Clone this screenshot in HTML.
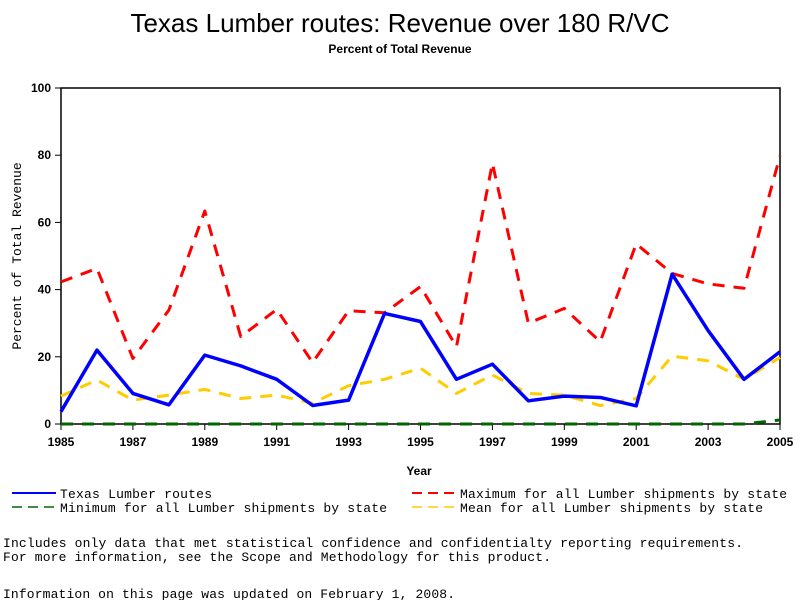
<!DOCTYPE html>
<html><head><meta charset="utf-8"><style>
body{margin:0;background:#fff;}
svg text{font-family:"Liberation Sans",sans-serif;}
.m{font-family:"Liberation Mono",monospace;font-size:13px;}
</style></head><body>
<svg width="800" height="600" xmlns="http://www.w3.org/2000/svg">
<text x="400" y="32" text-anchor="middle" font-size="26">Texas Lumber routes: Revenue over 180 R/VC</text>
<text x="400" y="53" text-anchor="middle" font-size="12" font-weight="bold">Percent of Total Revenue</text>
<rect x="61" y="88" width="719" height="336" fill="none" stroke="#000" stroke-width="1.5"/>
<g id="axes"></g>
<g id="series"></g>
<text x="419" y="475" text-anchor="middle" font-size="12" font-weight="bold">Year</text>
<text transform="translate(21,256) rotate(-90)" text-anchor="middle" class="m" font-size="12">Percent of Total Revenue</text>
<g>
<line x1="12" y1="493" x2="56" y2="493" stroke="#00f" stroke-width="2"/>
<text x="60" y="498" class="m" textLength="152">Texas Lumber routes</text>
<line x1="12" y1="507" x2="56" y2="507" stroke="#060" stroke-width="1.5" stroke-dasharray="10,6"/>
<text x="60" y="512" class="m" textLength="327">Minimum for all Lumber shipments by state</text>
<line x1="412" y1="493" x2="456" y2="493" stroke="#f00" stroke-width="2" stroke-dasharray="10,6"/>
<text x="460" y="498" class="m" textLength="327">Maximum for all Lumber shipments by state</text>
<line x1="412" y1="507" x2="456" y2="507" stroke="#fc0" stroke-width="1.5" stroke-dasharray="10,6"/>
<text x="460" y="512" class="m" textLength="303">Mean for all Lumber shipments by state</text>
</g>
<text x="3" y="547" class="m" textLength="740">Includes only data that met statistical confidence and confidentialty reporting requirements.</text>
<text x="3" y="561" class="m" textLength="548">For more information, see the Scope and Methodology for this product.</text>
<text x="3" y="598" class="m" textLength="452">Information on this page was updated on February 1, 2008.</text>
</svg>
<script>
const years=[1985,1986,1987,1988,1989,1990,1991,1992,1993,1994,1995,1996,1997,1998,1999,2000,2001,2002,2003,2004,2005];
const texas=[3.7,22.0,9.1,5.7,20.5,17.3,13.3,5.5,7.1,32.9,30.5,13.3,17.8,6.9,8.3,7.9,5.4,44.6,27.8,13.3,21.5];
const maxv=[42.3,46.3,19.5,33.9,63.4,26.0,34.1,18.3,33.7,33.1,40.9,23.0,77.6,30.0,34.4,24.5,53.6,44.8,41.7,40.4,79.8];
const meanv=[8.3,13.1,7.1,8.6,10.3,7.6,8.6,6.2,11.4,13.3,16.6,9.1,14.6,9.1,8.6,5.5,7.6,20.2,18.8,13.3,19.8];
const minv=[0,0,0,0,0,0,0,0,0,0,0,0,0,0,0,0,0,0,0,0,1.2];
const yTicks=[0,20,40,60,80,100];
const xTicks=[1985,1987,1989,1991,1993,1995,1997,1999,2001,2003,2005];
const NS='http://www.w3.org/2000/svg';
const X=y=>61+(y-1985)*(719/20);
const Y=v=>424-v*3.36;
const axes=document.getElementById('axes'),ser=document.getElementById('series');
function mk(t,a,p){const e=document.createElementNS(NS,t);for(const k in a)e.setAttribute(k,a[k]);p.appendChild(e);return e;}
yTicks.forEach(v=>{
 const l=mk('line',{x1:55,x2:61,y1:Y(v),y2:Y(v),stroke:'#000'},axes);
 
 
 const t=mk('text',{x:51,y:Y(v)+4,'text-anchor':'end','font-size':12,'font-weight':'bold'},axes);
 t.textContent=v;
 
 
});
xTicks.forEach(v=>{
 const l=mk('line',{x1:X(v),x2:X(v),y1:424,y2:430,stroke:'#000'},axes);
 
 
 const t=mk('text',{x:X(v),y:446,'text-anchor':'middle','font-size':12,'font-weight':'bold'},axes);
 t.textContent=v;
 
 
});
function line(vals,color,w,dash,name){
 const p=mk('polyline',{points:vals.map((v,i)=>X(years[i])+','+Y(v)).join(' '),fill:'none',stroke:color,'stroke-width':w,'stroke-dasharray':dash||'none','stroke-linejoin':'round'},ser);
 
 
}
line(minv,'#060',3,'12,9','line-minimum');
line(meanv,'#fc0',3,'12,9','line-mean');
line(maxv,'#f00',3,'12,9','line-maximum');
line(texas,'#00f',3.5,null,'line-texas');
</script>
</body></html>
